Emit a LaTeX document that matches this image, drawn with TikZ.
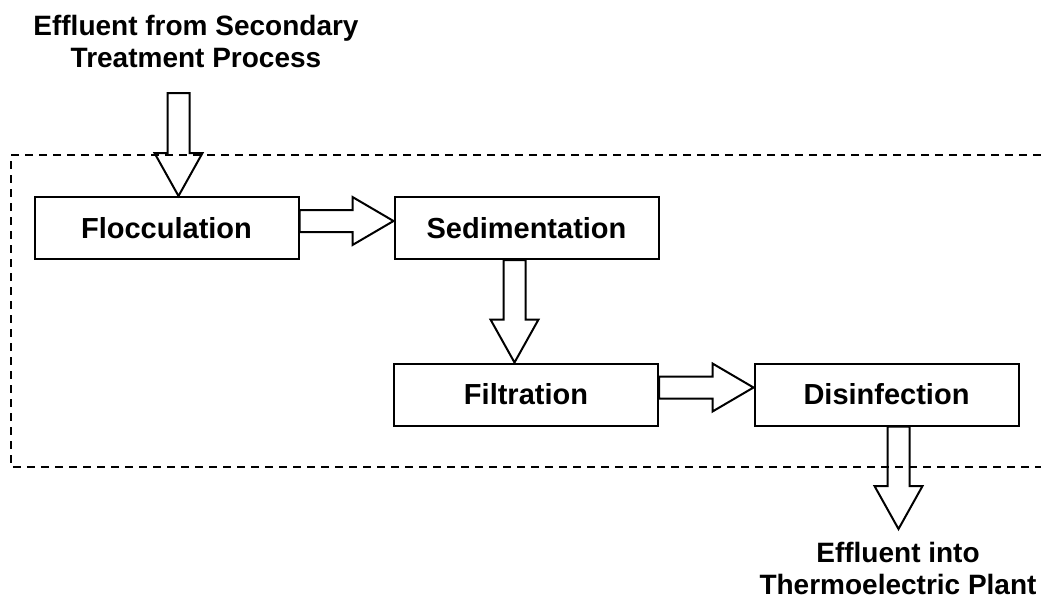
\documentclass[tikz,border=0pt]{standalone}
\usepackage{fontspec}
\setmainfont{Liberation Sans}[Ligatures=NoCommon]
\usetikzlibrary{calc}

% hollow block arrows: #1 = start point, #2 = tip point
\newcommand{\blockright}[2]{%
  \draw[blockarrow] let \p1=(#1), \p2=(#2) in
    (\x1,\y1+11pt) -- (\x2-41pt,\y1+11pt) -- (\x2-41pt,\y1+24pt) -- (\x2,\y1)
    -- (\x2-41pt,\y1-24pt) -- (\x2-41pt,\y1-11pt) -- (\x1,\y1-11pt) -- cycle;}
\newcommand{\blockdown}[2]{%
  \draw[blockarrow] let \p1=(#1), \p2=(#2) in
    (\x1-11pt,\y1) -- (\x1-11pt,\y2+43pt) -- (\x1-24pt,\y2+43pt) -- (\x1,\y2)
    -- (\x1+24pt,\y2+43pt) -- (\x1+11pt,\y2+43pt) -- (\x1+11pt,\y1) -- cycle;}

\begin{document}
\begin{tikzpicture}[x=1pt,y=-1pt,
  stage/.style={draw=black, line width=2pt, minimum width=264pt, minimum height=62pt,
    inner sep=0pt, font=\fontsize{29}{33}\selectfont\bfseries},
  caption/.style={align=center, font=\fontsize{28}{32}\selectfont\bfseries},
  blockarrow/.style={draw=black, line width=2pt, line join=miter},
  boundary/.style={draw=black, line width=2pt, dash pattern=on 8pt off 6pt}]

\useasboundingbox (0,0) rectangle (1041,600);

% process stages
\node[stage] (floc) at (166.5,228) {Flocculation};
\node[stage] (sed)  at (526.5,228) {Sedimentation};
\node[stage] (filt) at (526,394.5) {Filtration};
\node[stage] (dis)  at (886.5,394.5) {Disinfection};

% inflow and outflow captions
\node[caption] (inflow)  at (196,41)  {Effluent from Secondary\\Treatment Process};
\node[caption] (outflow) at (898,568) {Effluent into\\Thermoelectric Plant};

% treatment plant boundary (open on the right)
\draw[boundary] (1041,155) -- (11,155) -- (11,467) -- (1041,467);

% flow arrows
\coordinate (inTop) at (178.5,93);
\blockdown{inTop}{$(floc.north)+(12,0)$}
\blockright{$(floc.east)+(0,-7)$}{$(sed.west)+(0,-7)$}
\blockdown{$(sed.south)+(-12,0)$}{$(filt.north)+(-12,0)$}
\blockright{$(filt.east)+(0,-7)$}{$(dis.west)+(0,-7)$}
\coordinate (outTip) at (898.5,529);
\blockdown{$(dis.south)+(12,0)$}{outTip}
\end{tikzpicture}
\end{document}
